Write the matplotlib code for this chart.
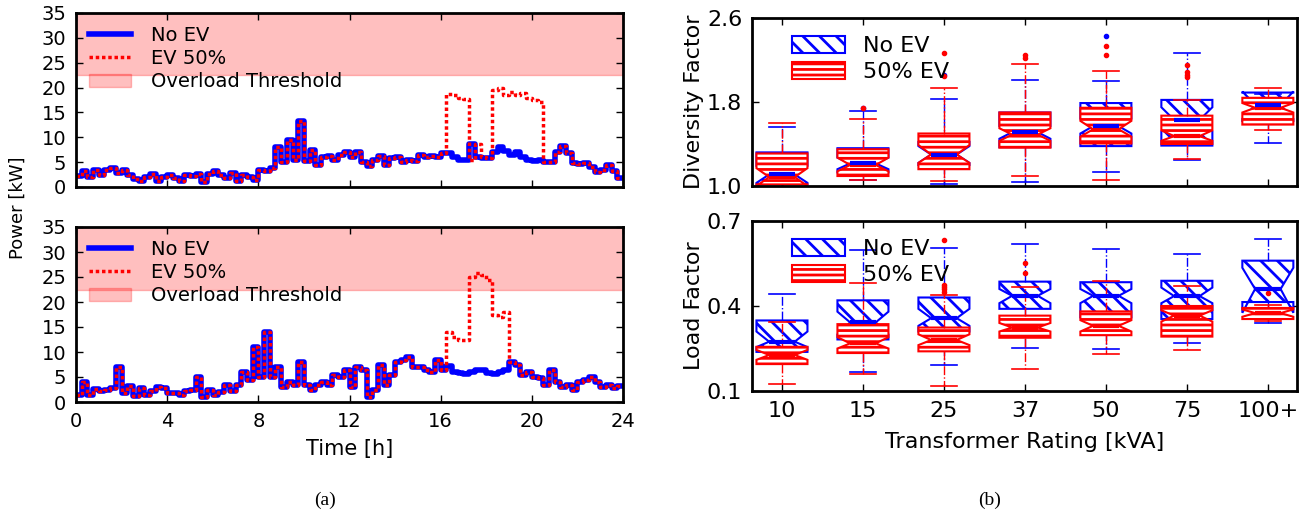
import matplotlib
matplotlib.use('Agg')
import matplotlib.pyplot as plt
import matplotlib.patches as mpatches
import numpy as np

# ---- (a) daily load profiles, 15 min steps ----
top_noev = [2.3, 3.3, 2.0, 3.4, 2.5, 3.5, 3.8, 2.8, 3.4, 2.5, 1.7, 1.3,
            2.1, 2.6, 1.3, 2.0, 2.4, 1.8, 1.2, 2.5, 2.2, 2.6, 1.0, 2.7,
            3.3, 2.5, 1.9, 2.8, 1.2, 2.5, 2.0, 1.5, 3.5, 3.3, 3.9, 8.0,
            5.0, 9.5, 5.5, 13.2, 5.2, 7.5, 4.5, 6.0, 6.3, 5.5, 6.5, 7.0,
            6.0, 7.0, 5.0, 4.2, 5.5, 6.3, 4.5, 5.8, 6.0, 5.0, 5.4, 5.3,
            6.5, 6.0, 6.2, 6.1, 6.8, 6.8, 6.0, 5.5, 5.5, 8.6, 6.0, 5.8,
            5.8, 7.0, 8.0, 7.3, 6.5, 7.0, 6.0, 5.5, 5.2, 5.5, 5.0, 5.0,
            7.0, 8.2, 6.8, 4.8, 4.6, 4.8, 4.0, 3.0, 3.4, 4.5, 3.3, 1.8]
top_ev_start = 65
top_ev_window = [18.8, 18.5, 18.0, 17.8, 5.5, 8.6, 6.0, 5.8,
                 19.5, 20.0, 18.6, 19.2, 18.5, 19.0, 18.0, 17.5, 17.0]

bot_noev = [1.5, 4.0, 1.5, 2.6, 2.2, 2.5, 2.8, 7.0, 1.8, 3.3, 1.2, 2.8,
            1.5, 2.2, 3.0, 2.8, 1.8, 1.8, 1.5, 2.2, 2.5, 5.0, 1.0, 2.5,
            1.5, 2.0, 3.5, 2.3, 3.5, 6.0, 4.5, 11.0, 5.0, 14.0, 5.0, 7.0,
            3.0, 4.0, 3.5, 8.0, 3.5, 2.5, 3.5, 4.0, 3.5, 5.5, 5.0, 6.5,
            3.0, 7.0, 6.5, 1.0, 2.5, 7.5, 3.5, 5.5, 8.0, 8.5, 9.0, 7.0,
            7.0, 6.5, 6.0, 8.5, 6.5, 7.3, 6.0, 5.8, 5.7, 6.0, 6.5, 6.5,
            5.8, 5.7, 6.0, 6.5, 8.0, 7.5, 5.5, 6.0, 5.0, 4.8, 3.5, 6.5,
            4.0, 3.0, 3.5, 2.5, 4.0, 4.5, 5.0, 4.0, 3.0, 3.5, 2.8, 3.2]
bot_ev_start = 65
bot_ev_window = [14.0, 13.0, 12.5, 12.5, 25.0, 25.8, 25.5, 24.5,
                 17.5, 17.0, 18.0]

overload = 22.5

# ---- (b) box statistics per transformer rating ----
ratings = ['10', '15', '25', '37', '50', '75', '100+']

df_noev_med = [1.11, 1.215, 1.30, 1.513, 1.57, 1.63, 1.77]
df_noev_q1 = [1.02, 1.13, 1.20, 1.37, 1.38, 1.385, 1.62]
df_noev_q3 = [1.32, 1.36, 1.42, 1.70, 1.79, 1.82, 1.89]
df_noev_cilo = [1.03, 1.16, 1.22, 1.45, 1.50, 1.52, 1.64]
df_noev_cihi = [1.19, 1.27, 1.38, 1.57, 1.64, 1.75, 1.90]
df_noev_lo = [0.98, 1.06, 1.02, 1.035, 1.135, 1.245, 1.405]
df_noev_hi = [1.56, 1.71, 1.83, 2.005, 2.00, 2.27, 1.88]
df_noev_fl = [[], [1.745], [2.06], [], [2.43], [], []]

df_ev_med = [1.085, 1.20, 1.30, 1.49, 1.54, 1.475, 1.745]
df_ev_q1 = [1.015, 1.095, 1.16, 1.365, 1.405, 1.40, 1.585]
df_ev_q3 = [1.31, 1.35, 1.50, 1.70, 1.745, 1.67, 1.84]
df_ev_cilo = [1.00, 1.14, 1.22, 1.43, 1.47, 1.43, 1.70]
df_ev_cihi = [1.17, 1.27, 1.39, 1.55, 1.62, 1.53, 1.79]
df_ev_lo = [0.98, 1.06, 1.05, 1.10, 1.06, 1.26, 1.53]
df_ev_hi = [1.60, 1.64, 1.935, 2.16, 2.10, 1.82, 1.93]
df_ev_fl = [[], [1.745], [2.045, 2.27], [2.22, 2.25], [2.25, 2.33],
            [2.04, 2.06, 2.09, 2.155], []]

lf_noev_med = [0.274, 0.342, 0.357, 0.436, 0.436, 0.435, 0.46]
lf_noev_q1 = [0.238, 0.282, 0.31, 0.39, 0.36, 0.354, 0.414]
lf_noev_q3 = [0.349, 0.42, 0.43, 0.486, 0.484, 0.489, 0.56]
lf_noev_cilo = [0.255, 0.30, 0.33, 0.41, 0.41, 0.41, 0.376]
lf_noev_cihi = [0.31, 0.38, 0.39, 0.46, 0.46, 0.465, 0.535]
lf_noev_lo = [0.20, 0.166, 0.192, 0.251, 0.249, 0.27, 0.34]
lf_noev_hi = [0.443, 0.597, 0.606, 0.618, 0.60, 0.585, 0.636]
lf_noev_fl = [[], [], [], [], [], [], []]

lf_ev_med = [0.227, 0.268, 0.28, 0.324, 0.33, 0.366, 0.375]
lf_ev_q1 = [0.195, 0.234, 0.24, 0.288, 0.297, 0.292, 0.354]
lf_ev_q3 = [0.256, 0.336, 0.324, 0.366, 0.381, 0.40, 0.393]
lf_ev_cilo = [0.21, 0.25, 0.262, 0.31, 0.31, 0.345, 0.362]
lf_ev_cihi = [0.245, 0.29, 0.30, 0.34, 0.35, 0.385, 0.388]
lf_ev_lo = [0.124, 0.159, 0.117, 0.178, 0.232, 0.246, 0.346]
lf_ev_hi = [0.343, 0.48, 0.44, 0.467, 0.489, 0.471, 0.405]
lf_ev_fl = [[], [], [0.45, 0.46, 0.466, 0.474, 0.633], [0.516, 0.552],
            [], [], [0.447]]

W, H = 1304, 514
plt.rcParams['hatch.linewidth'] = 2.0


def px_axes(fig, left, top, right, bottom):
    return fig.add_axes([left / W, 1 - bottom / H, (right - left) / W,
                         (bottom - top) / H])


def style_axes(ax, size):
    for s in ax.spines.values():
        s.set_linewidth(2)
    ax.tick_params(direction='in', top=True, right=True, length=5,
                   width=1, labelsize=size, pad=7)


def profile(ax, base, ev_start, ev_window, show_x):
    ev = list(base)
    ev[ev_start:ev_start + len(ev_window)] = ev_window
    t = np.arange(len(base) + 1) * 0.25
    ax.axhspan(overload, 35, color='red', alpha=0.25,
               label='Overload Threshold')
    ax.step(t, base + base[-1:], where='post', color='b', lw=4,
            label='No EV')
    ax.step(t, ev + ev[-1:], where='post', color='r', lw=2.5,
            dashes=(1, 0.8), label='EV 50%')
    ax.set_xlim(0, 24)
    ax.set_ylim(0, 35)
    ax.set_xticks(range(0, 25, 4))
    ax.set_yticks(range(0, 36, 5))
    style_axes(ax, 14)
    if not show_x:
        ax.set_xticklabels([])
    h, l = ax.get_legend_handles_labels()
    ax.legend(h[1:] + h[:1], l[1:] + l[:1], loc='upper left',
              frameon=False, fontsize=14, handlelength=2.2,
              labelspacing=0.22, borderaxespad=0.25, handletextpad=1.0)


def stats(med, q1, q3, cilo, cihi, lo, hi, fl):
    return [dict(med=med[i], q1=q1[i], q3=q3[i], cilo=cilo[i],
                 cihi=cihi[i], whislo=lo[i], whishi=hi[i], fliers=fl[i])
            for i in range(len(med))]


def boxes(ax, st, color, hatch, zmed):
    ax.bxp(st, positions=range(1, 8), widths=0.63, shownotches=True,
           patch_artist=True,
           boxprops=dict(facecolor='white', edgecolor=color, hatch=hatch,
                         linewidth=1.5),
           medianprops=dict(color=color, linewidth=3, zorder=zmed),
           whiskerprops=dict(color=color, linestyle='-.', linewidth=1),
           capprops=dict(color=color, linewidth=1.2),
           flierprops=dict(marker='o', markerfacecolor=color,
                           markeredgecolor=color, markersize=3))


fig = plt.figure(figsize=(W / 100, H / 100), dpi=100)

ax1 = px_axes(fig, 76, 13, 623, 187)
profile(ax1, top_noev, top_ev_start, top_ev_window, False)
ax2 = px_axes(fig, 76, 227, 623, 402)
profile(ax2, bot_noev, bot_ev_start, bot_ev_window, True)
ax2.set_xlabel('Time [h]', fontsize=15, labelpad=6)
fig.text(18 / W, 1 - 208 / H, 'Power [kW]', rotation=90, fontsize=13,
         ha='center', va='center')

ax3 = px_axes(fig, 752, 18, 1297, 186)
ax4 = px_axes(fig, 752, 221, 1297, 391)
sets = [(ax3, stats(df_noev_med, df_noev_q1, df_noev_q3, df_noev_cilo,
                    df_noev_cihi, df_noev_lo, df_noev_hi, df_noev_fl),
         stats(df_ev_med, df_ev_q1, df_ev_q3, df_ev_cilo, df_ev_cihi,
               df_ev_lo, df_ev_hi, df_ev_fl),
         (1.0, 2.6), [1.0, 1.8, 2.6], 'Diversity Factor'),
        (ax4, stats(lf_noev_med, lf_noev_q1, lf_noev_q3, lf_noev_cilo,
                    lf_noev_cihi, lf_noev_lo, lf_noev_hi, lf_noev_fl),
         stats(lf_ev_med, lf_ev_q1, lf_ev_q3, lf_ev_cilo, lf_ev_cihi,
               lf_ev_lo, lf_ev_hi, lf_ev_fl),
         (0.1, 0.7), [0.1, 0.4, 0.7], 'Load Factor')]
for ax, s_noev, s_ev, ylim, yt, ylab in sets:
    boxes(ax, s_noev, 'b', '\\\\', 5)
    boxes(ax, s_ev, 'r', '---', 4)
    ax.set_xlim(0.63, 7.36)
    ax.set_ylim(*ylim)
    ax.set_yticks(yt)
    ax.set_yticklabels(['%.1f' % v for v in yt])
    ax.set_xticks(range(1, 8))
    style_axes(ax, 16)
    ax.set_ylabel(ylab, fontsize=16, labelpad=2)
    hb = mpatches.Patch(facecolor='white', edgecolor='b', hatch='\\\\',
                        linewidth=1.5, label='No EV')
    hr = mpatches.Patch(facecolor='white', edgecolor='r', hatch='---',
                        linewidth=1.5, label='50% EV')
    ax.legend(handles=[hb, hr], loc='upper left',
              bbox_to_anchor=(0.04, 1.0), frameon=False,
              fontsize=16, handlelength=2.4, handleheight=0.8,
              labelspacing=0.25, borderaxespad=0.4, handletextpad=0.8)
ax3.set_xticklabels([])
ax4.set_xticklabels(ratings)
ax4.set_xlabel('Transformer Rating [kVA]', fontsize=16, labelpad=8)

fig.text(325 / W, 1 - 500 / H, '(a)', fontsize=14, family='Liberation Serif',
         ha='center', va='center')
fig.text(990 / W, 1 - 500 / H, '(b)', fontsize=14, family='Liberation Serif',
         ha='center', va='center')

fig.savefig('out.png', dpi=100)
